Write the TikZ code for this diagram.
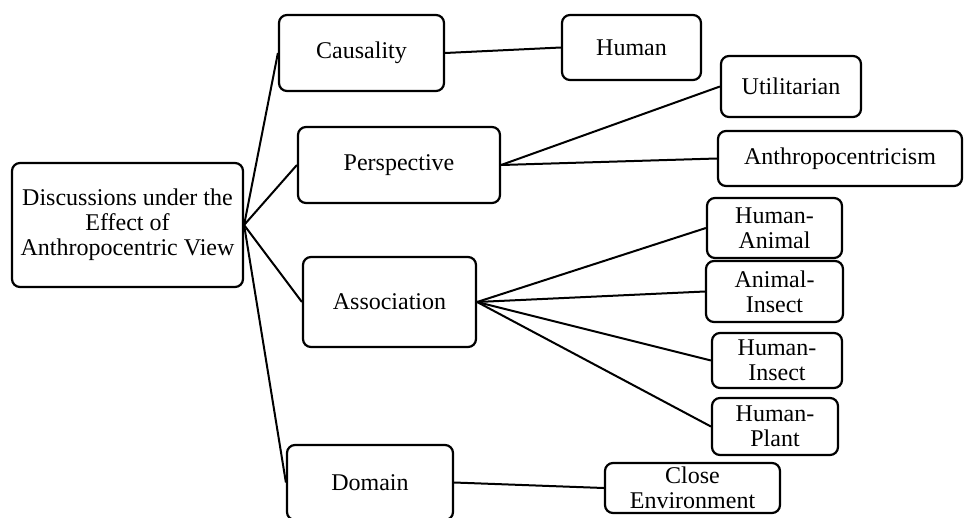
\documentclass[tikz,border=0pt]{standalone}
\usepackage{fontspec}
\setmainfont{Liberation Serif}
\begin{document}
\begin{tikzpicture}[x=1pt,y=-1pt,
  box/.style={draw, line width=2.2pt, rounded corners=8pt, inner sep=0pt, align=center,
    font=\fontsize{24}{25}\selectfont, fill=white},
  link/.style={line width=2pt}]
\useasboundingbox (0,0) rectangle (964,517);
\clip (0,0) rectangle (964,517);
\node[box, minimum width=231pt, minimum height=124pt] (root) at (127.5,225) {Discussions under the\\Effect of\\Anthropocentric View};
\node[box, minimum width=165pt, minimum height=76pt] (caus) at (361.5,53) {Causality};
\node[box, minimum width=202pt, minimum height=76pt] (persp) at (399,165) {Perspective};
\node[box, minimum width=173pt, minimum height=90pt] (assoc) at (389.5,302) {Association};
\node[box, minimum width=166pt, minimum height=75pt] (dom) at (370,482.5) {Domain};
\node[box, minimum width=139pt, minimum height=65pt] (human) at (631.5,47.5) {Human};
\node[box, minimum width=140pt, minimum height=61pt] (util) at (791,86.5) {Utilitarian};
\node[box, minimum width=244pt, minimum height=55pt] (anth) at (840,158.5) {Anthropocentricism};
\node[box, minimum width=135pt, minimum height=60pt] (ha) at (774.5,228) {Human-\\Animal};
\node[box, minimum width=137pt, minimum height=61pt] (ai) at (774.5,291.5) {Animal-\\Insect};
\node[box, minimum width=130pt, minimum height=55pt] (hi) at (777,360.5) {Human-\\Insect};
\node[box, minimum width=126pt, minimum height=57pt] (hp) at (775,426.5) {Human-\\Plant};
\node[box, minimum width=175pt, minimum height=50pt] (ce) at (692.5,488) {Close\\Environment};
\draw[link] (root.east) -- (caus.west);
\draw[link] (root.east) -- (persp.west);
\draw[link] (root.east) -- (assoc.west);
\draw[link] (root.east) -- (dom.west);
\draw[link] (caus.east) -- (human.west);
\draw[link] (persp.east) -- (util.west);
\draw[link] (persp.east) -- (anth.west);
\draw[link] (assoc.east) -- (ha.west);
\draw[link] (assoc.east) -- (ai.west);
\draw[link] (assoc.east) -- (hi.west);
\draw[link] (assoc.east) -- (hp.west);
\draw[link] (dom.east) -- (ce.west);
\end{tikzpicture}
\end{document}
